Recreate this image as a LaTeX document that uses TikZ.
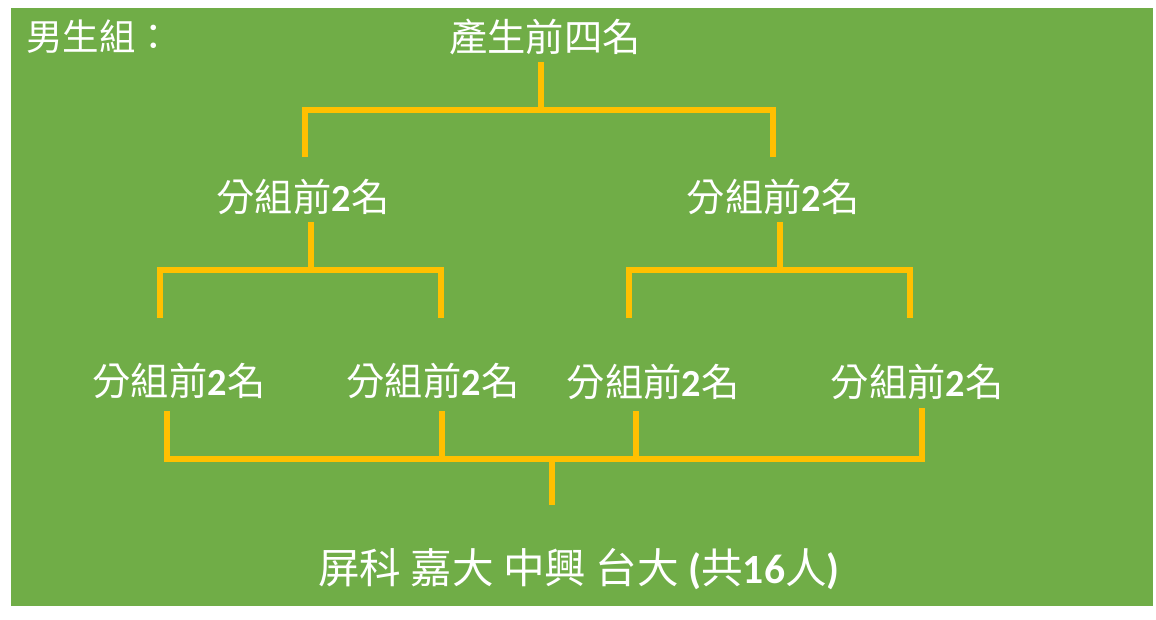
\documentclass[tikz,border=0pt]{standalone}
\usepackage{fontspec}
\setmainfont{Noto Sans CJK TC}
\newfontfamily\lat{Carlito}
\usetikzlibrary{calc}
\definecolor{bggreen}{HTML}{70AD47}
\definecolor{gold}{HTML}{FFC000}
\tikzset{
  lbl/.style={text=white, inner sep=0pt, font=\fontsize{38.3}{41}\selectfont},
  big/.style={text=white, inner sep=0pt, font=\fontsize{41.6}{44}\selectfont},
  conn/.style={draw=gold, line width=6pt, line cap=butt, line join=miter}
}
\newcommand{\num}[1]{{\lat\bfseries #1}}
\begin{document}
\begin{tikzpicture}[x=1pt,y=1pt]
\useasboundingbox (0,0) rectangle (1156,-619);
\fill[white] (0,0) rectangle (1156,-619);
\fill[bggreen] (11,-8) rectangle (1153,-606);

% texts
\node[lbl, anchor=west, font=\fontsize{36.5}{40}\selectfont] (boys) at (26,-37) {男生組：};
\node[lbl] (top) at (545,-37) {產生前四名};
\node[lbl] (m1) at (303,-197) {分組前\num{2}名};
\node[lbl] (m2) at (773,-197) {分組前\num{2}名};
\node[lbl] (b1) at (179,-381) {分組前\num{2}名};
\node[lbl] (b2) at (433,-381) {分組前\num{2}名};
\node[lbl] (b3) at (653,-382) {分組前\num{2}名};
\node[lbl] (b4) at (917,-382) {分組前\num{2}名};
\node[big] (bottom) at (579,-569) {屏科 嘉大 中興 台大 \num{(}共\num{16}人\num{)}};

% junctions and bracket feet
\coordinate (j0) at (541,-110);
\coordinate (f0a) at (305,-157);
\coordinate (f0b) at (773,-157);
\coordinate (j1) at (311,-270);
\coordinate (f1a) at (160,-318);
\coordinate (f1b) at (441,-318);
\coordinate (j2) at (780,-270);
\coordinate (f2a) at (629,-318);
\coordinate (f2b) at (910,-318);
\coordinate (j3) at (552,-459);
\coordinate (g1) at (167,-411);
\coordinate (g2) at (442,-411);
\coordinate (g3) at (636,-411);
\coordinate (g4) at (922,-408);

% top level
\draw[conn] ($(top.south -| j0)+(0,-7)$) -- (j0);
\draw[conn] (f0a) |- (j0) -| (f0b);
% left subtree
\draw[conn] ($(m1.south -| j1)+(0,-7)$) -- (j1);
\draw[conn] (f1a) |- (j1) -| (f1b);
% right subtree
\draw[conn] ($(m2.south -| j2)+(0,-7)$) -- (j2);
\draw[conn] (f2a) |- (j2) -| (f2b);
% bottom bracket
\draw[conn] (g1) |- (j3) -| (g4);
\draw[conn] (g2) -- (g2 |- j3);
\draw[conn] (g3) -- (g3 |- j3);
\draw[conn] (j3) -- ($(bottom.north -| j3)+(0,43)$);
\end{tikzpicture}
\end{document}
